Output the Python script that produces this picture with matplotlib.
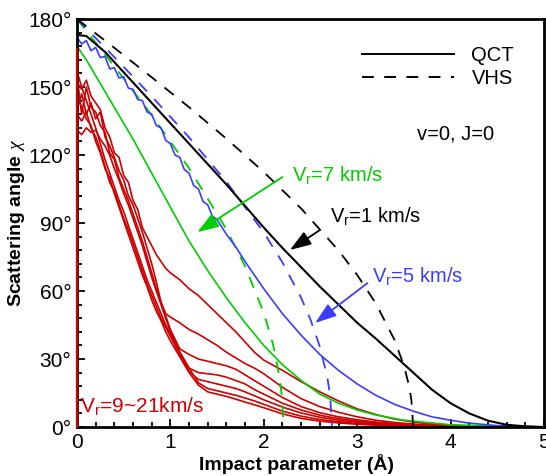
import matplotlib
matplotlib.use("Agg")
import matplotlib.pyplot as plt
from matplotlib.lines import Line2D
from matplotlib.ticker import MultipleLocator

plt.rcParams["font.family"] = ["Liberation Sans", "DejaVu Sans"]
plt.rcParams["mathtext.fontset"] = "custom"
plt.rcParams["mathtext.rm"] = "Liberation Sans"
plt.rcParams["mathtext.it"] = "Liberation Serif:italic"
plt.rcParams["lines.scale_dashes"] = False

RED = "#cc0000"
GREEN = "#00cc00"
BLUE = "#3c3cff"
INK = "black"
DASH = (8.5, 7.5)

# ---- data (impact parameter in Angstrom, scattering angle in degrees) ----
BLACK_B = [0, 0.1, 0.2, 0.3, 0.4, 0.6, 0.8, 1.0, 1.2, 1.4, 1.6, 1.8, 2.0, 2.2,
           2.4, 2.6, 2.8, 3.0, 3.2, 3.4, 3.6, 3.8, 4.0, 4.2, 4.4, 4.6, 4.8, 5.0]
QCT_1 = [173, 172.5, 169, 165.5, 161, 152, 143, 134, 125, 116, 107, 97.5, 88, 79,
         70.5, 62, 54, 46, 39, 31.5, 24, 16.5, 10.5, 6, 2.8, 1, 0.3, 0]

BLUE_B = [0, .05, .1, .15, .2, .25, .3, .35, .4, .45, .5, .55, .6, .65, .7, .75,
          .8, .85, .9, .95, 1.0, 1.05, 1.1, 1.15, 1.2, 1.25, 1.3, 1.35, 1.4, 1.45,
          1.5, 1.6, 1.7, 1.8, 1.9, 2.0, 2.2, 2.4, 2.6, 2.8, 3.0, 3.2, 3.4, 3.6,
          3.8, 4.0, 4.2, 4.5, 5.0]
QCT_5 = [172, 169, 170.5, 166, 167.5, 163, 163.5, 158, 158.5, 154, 154.5, 149.5,
         149, 144.5, 144, 139, 138, 133, 132, 126.5, 125, 120, 119, 113.5, 112,
         106.5, 105, 99.5, 98, 93, 91.5, 85, 79.5, 73, 67, 61, 50, 40.5, 32, 25,
         19, 14, 10, 7, 4.5, 3, 1.7, 0.6, 0]

GREEN_B = [0, 0.1, 0.2, 0.4, 0.6, 0.8, 1.0, 1.2, 1.4, 1.6, 1.8, 2.0, 2.2, 2.4,
           2.6, 2.8, 3.0, 3.2, 3.5, 4.0, 4.5, 5.0]
QCT_7 = [168, 162, 155, 141, 127, 112, 97, 82, 69, 57, 46, 36, 27.5, 20.5,
         14.5, 10.5, 7.5, 5.3, 3, 1, 0.3, 0]

VHS_B_1 = [0, 0.4, 0.8, 1.2, 1.6, 2.0, 2.4, 2.8, 3.0, 3.2, 3.4, 3.5, 3.55, 3.58, 3.6]
VHS_1 = [180, 167.3, 154.3, 141.1, 127.2, 112.5, 96.4, 77.9, 67.1, 54.5, 38.4,
         27.1, 19.1, 12.1, 0]
VHS_B_5 = [0, 0.4, 0.8, 1.2, 1.6, 2.0, 2.2, 2.4, 2.5, 2.6, 2.68, 2.71, 2.73]
VHS_5 = [180, 163.2, 145.9, 127.8, 108.2, 85.8, 72.6, 57.0, 47.4, 35.5, 22.0, 13.9, 0]
VHS_B_7 = [0, 0.4, 0.8, 1.2, 1.6, 1.8, 2.0, 2.1, 2.17, 2.2, 2.21]
VHS_7 = [180, 159.1, 137.6, 114.2, 87.2, 70.9, 50.4, 36.3, 21.8, 10.9, 0]

# Vr = 9, 11, ..., 21 km/s (QCT)
RED_B = [0, .05, .1, .15, .2, .25, .3, .35, .4, .45, .5, .55, .6, .65, .7, .75,
         .8, .85, .9, .95, 1.0, 1.1, 1.2, 1.3, 1.4, 1.5, 1.6, 1.7, 1.8, 1.9, 2.0,
         2.2, 2.4, 2.6, 2.8, 3.0, 3.2, 3.4, 3.6, 3.8, 4.0, 4.5, 5.0]
QCT_9 = [152, 149, 153, 146, 143, 140, 132, 128, 121, 119, 111, 108, 100, 96, 88,
         84, 80, 76, 73, 70, 68, 65, 61, 58, 54, 50, 46, 42, 37.5, 33, 29.5,
         25, 20, 15.5, 11.5, 8, 5.5, 3.5, 2.2, 1.3, 0.7, 0.1, 0]
QCT_11 = [140, 147, 138, 143, 136, 139, 128, 124, 119, 113, 109, 102, 98, 92, 86,
          79, 72, 64, 55, 50, 48.5, 46, 43, 41, 38.5, 36, 33, 30.5, 28, 26, 23.5,
          17.5, 12.5, 9, 6.5, 4.5, 3, 2, 1.3, 0.8, 0.4, 0.1, 0]
QCT_13 = [155, 138, 150, 141, 139, 133, 130, 121, 118, 110, 105, 100, 94, 88, 82,
          75, 68, 61, 55, 49, 43, 34.5, 32, 30, 29, 28, 27, 25.5, 23, 20.5, 18,
          13, 9, 6.3, 4.5, 3.2, 2.2, 1.5, 1, 0.6, 0.3, 0.05, 0]
QCT_15 = [131, 129, 132, 130, 131, 127, 124, 120, 114, 109, 103, 98, 92, 86, 80,
          73, 66, 60, 54, 48, 42, 33, 26, 24, 23.5, 23, 22, 20.5, 19, 16.5, 14.5,
          10.5, 7.5, 5.2, 3.7, 2.6, 1.8, 1.2, 0.8, 0.5, 0.3, 0.05, 0]
QCT_17 = [138, 135, 139, 132, 128, 122, 115, 108, 104, 98, 92, 87, 81, 75, 69,
          63, 58, 53, 48, 44, 40, 32, 24.5, 21, 20, 19, 18, 17, 15.5, 13.8, 12,
          8.8, 6.2, 4.3, 3, 2.1, 1.4, 1, 0.7, 0.4, 0.2, 0.05, 0]
QCT_19 = [157, 150, 144, 138, 132, 125, 118, 112, 106, 100, 95, 89, 83, 77, 71,
          65, 60, 55, 50, 45, 41, 33, 26, 19.5, 17, 16, 15, 14, 12.8, 11.5, 10,
          7, 4.8, 3.3, 2.3, 1.6, 1.1, 0.8, 0.5, 0.3, 0.2, 0.05, 0]
QCT_21 = [146, 141, 136, 133, 126, 121, 114, 110, 103, 97, 91, 85, 79, 73, 67,
          62, 56, 51, 47, 42, 38, 31, 24, 18.5, 15.5, 14.5, 13.5, 12.3, 11, 9.8, 8.5,
          5.8, 3.8, 2.6, 1.8, 1.2, 0.8, 0.6, 0.4, 0.2, 0.1, 0, 0]
RED_CURVES = [QCT_9, QCT_11, QCT_13, QCT_15, QCT_17, QCT_19, QCT_21]
RED_AXIS_B = [0, 0]
RED_AXIS_CHI = [0, 167]

Y_TICKS = [0, 30, 60, 90, 120, 150, 180]
Y_TICK_LABELS = ["0°", "30°", "60°", "90°", "120°", "150°", "180°"]

fig = plt.figure(figsize=(5.46, 4.76), dpi=100)
ax = fig.add_axes([0.141, 0.1029, 0.8553, 0.8571])

for chi in RED_CURVES:
    ax.plot(RED_B, chi, color=RED, lw=1.2)
ax.plot(RED_AXIS_B, RED_AXIS_CHI, color=RED, lw=1.6, zorder=3, clip_on=False)

ax.plot(GREEN_B, QCT_7, color=GREEN, lw=1.2)
ax.plot(VHS_B_7, VHS_7, color=GREEN, lw=1.3, dashes=DASH)
ax.plot(BLUE_B, QCT_5, color=BLUE, lw=1.2)
ax.plot(VHS_B_5, VHS_5, color=BLUE, lw=1.3, dashes=DASH)
ax.plot(BLACK_B, QCT_1, color=INK, lw=1.5)
ax.plot(VHS_B_1, VHS_1, color=INK, lw=1.3, dashes=DASH)

handles = [Line2D([], [], color=INK, lw=1.4),
           Line2D([], [], color=INK, lw=1.4, dashes=DASH)]
ax.legend(handles, ["QCT", "VHS"], loc="upper right", bbox_to_anchor=(0.936, 0.935),
          frameon=False, fontsize=14.5, handlelength=4.6, handletextpad=0.85,
          labelspacing=0.22, borderpad=0, borderaxespad=0)

# annotations: (text, colour, text xy, arrow start, arrow tip)
NOTES = [
    ("V$_\\mathrm{r}$=7 km/s", GREEN, (2.30, 108.6), (2.20, 110.3), (1.29, 86.0)),
    ("V$_\\mathrm{r}$=1 km/s", INK, (2.71, 90.4), (2.60, 86.9), (2.28, 78.1)),
    ("V$_\\mathrm{r}$=5 km/s", BLUE, (3.16, 64.0), (3.11, 63.5), (2.55, 45.9)),
]
head = "-|>,head_length=1.3,head_width=0.45"
for label, col, txy, start, tip in NOTES:
    ax.text(*txy, label, color=col, fontsize=14.5, va="baseline")
    ax.annotate("", xy=tip, xytext=start,
                arrowprops=dict(arrowstyle=head, mutation_scale=10, color=col,
                                lw=1.3, shrinkA=0, shrinkB=0))
ax.text(0.03, 6.6, "V$_\\mathrm{r}$=9~21km/s", color=RED, fontsize=15, va="baseline")
ax.text(3.64, 127, "v=0, J=0", color=INK, fontsize=14.5, va="baseline")

ax.set_xlim(0, 5)
ax.set_ylim(0, 180)
ax.xaxis.set_major_locator(MultipleLocator(1))
ax.xaxis.set_minor_locator(MultipleLocator(0.2))
ax.set_yticks(Y_TICKS)
ax.set_yticklabels(Y_TICK_LABELS)
ax.yaxis.set_minor_locator(MultipleLocator(6))
ax.tick_params(which="both", direction="in", top=False, right=False,
               labelsize=15, width=1.3, pad=4)
ax.tick_params(which="major", length=6)
ax.tick_params(which="minor", length=3.5)
for s in ax.spines.values():
    s.set_linewidth(2)

ax.set_xlabel("Impact parameter (Å)", fontsize=14, fontweight="bold")
ax.xaxis.set_label_coords(0.469, -0.066)
ax.set_ylabel("Scattering angle $\\chi$", fontsize=14, fontweight="bold")
ax.yaxis.set_label_coords(-0.107, 0.5)

fig.savefig("out.png", dpi=100)
